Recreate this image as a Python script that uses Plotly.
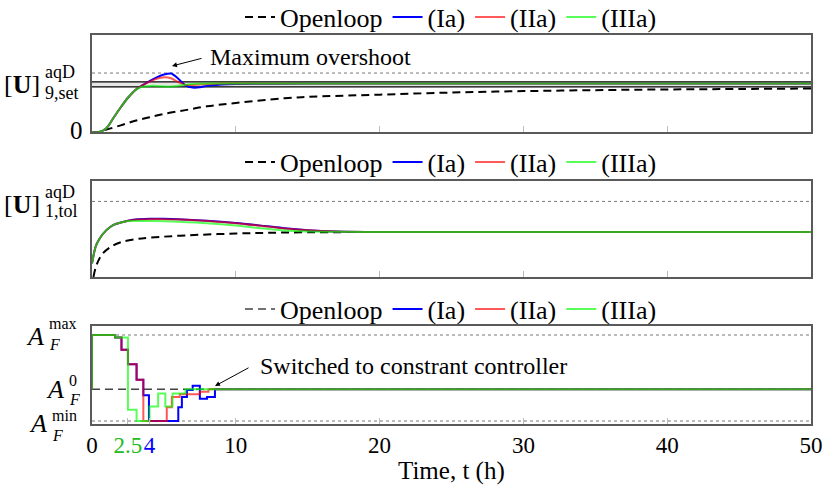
import plotly.graph_objects as go
from plotly.subplots import make_subplots

W, H = 831, 498
FONT = "'Liberation Serif', 'DejaVu Serif', serif"

# ---- panel 1: [U]_9,set (normalised, set point = 1) ----
t_open1 = [0, 0.4, 1, 2, 3, 4, 5, 6.5, 8, 10, 13.4, 16, 20, 25, 30, 35, 40, 45, 50]
u9_open = [0, 0, 0.05, 0.14, 0.235, 0.31, 0.38, 0.46, 0.54, 0.61, 0.71, 0.75, 0.785,
           0.83, 0.86, 0.88, 0.895, 0.905, 0.915]

t_ctrl1 = [0, 0.5, 1.0, 1.5, 2.0, 2.5, 3.0, 3.5, 4.0, 4.5, 5.0, 5.5, 6.0, 6.5, 7.0,
           7.5, 8.0, 9.0, 10, 15, 20, 30, 40, 50]
u9_Ia = [0, 0, 0.08, 0.3, 0.52, 0.72, 0.88, 0.98, 1.07, 1.15, 1.21, 1.23, 1.12, 0.98,
         0.935, 0.94, 0.97, 1.0, 1.01, 1.02, 1.02, 1.02, 1.02, 1.02]
u9_IIa = [0, 0, 0.08, 0.3, 0.52, 0.72, 0.88, 0.98, 1.06, 1.12, 1.15, 1.13, 1.05, 0.99,
          0.99, 1.0, 1.01, 1.02, 1.02, 1.02, 1.02, 1.02, 1.02, 1.02]
u9_IIIa = [0, 0, 0.08, 0.3, 0.52, 0.72, 0.88, 0.95, 0.97, 0.97, 0.955, 0.955, 0.975,
           0.995, 1.01, 1.015, 1.02, 1.02, 1.02, 1.02, 1.02, 1.02, 1.02, 1.02]
u9_band = [0.947, 1.053]
u9_max_overshoot = 1.24

# ---- panel 2: [U]_1,tol (normalised, tolerance = 1) ----
t_open2 = [0.1, 0.3, 0.7, 1.4, 2, 3, 4, 6.5, 10, 13.4, 20, 30, 40, 50]
u1_open = [0.0, 0.15, 0.3, 0.41, 0.46, 0.5, 0.52, 0.55, 0.575, 0.588, 0.595, 0.595,
           0.595, 0.595]
t_ctrl2 = [0, 0.25, 0.5, 1.0, 1.5, 2.0, 2.5, 3, 4, 5, 6, 8, 10, 12, 13.4, 15, 17, 20,
           30, 40, 50]
u1_Ia = [0.18, 0.4, 0.5, 0.62, 0.69, 0.72, 0.745, 0.76, 0.77, 0.77, 0.765, 0.745,
         0.715, 0.675, 0.645, 0.62, 0.603, 0.595, 0.595, 0.595, 0.595]
u1_IIa = [0.18, 0.4, 0.5, 0.62, 0.69, 0.72, 0.745, 0.758, 0.765, 0.765, 0.76, 0.742,
          0.712, 0.672, 0.642, 0.618, 0.602, 0.595, 0.595, 0.595, 0.595]
u1_IIIa = [0.18, 0.4, 0.5, 0.62, 0.69, 0.72, 0.74, 0.742, 0.742, 0.738, 0.73, 0.71,
           0.68, 0.64, 0.615, 0.603, 0.597, 0.595, 0.595, 0.595, 0.595]
u1_tol = 1.0

# ---- panel 3: A_F (normalised, A_min = 0, A_max = 1) ----
a_min, a_0, a_max = 0.0, 0.37, 1.0
t_open3 = [0, 50]
af_open = [a_0, a_0]
t_Ia = [0, 0, 1.6, 2.05, 2.5, 3.1, 3.57, 3.96, 6.0, 6.25, 6.6, 7.0, 7.5, 8.0, 8.55, 50]
af_Ia = [0.37, 1.0, 0.97, 0.83, 0.66, 0.48, 0.30, 0.0, 0.16, 0.28, 0.36, 0.41, 0.26,
         0.28, 0.37, 0.37]
t_IIa = [0, 0, 1.6, 2.05, 2.5, 3.1, 3.57, 5.2, 5.55, 6.1, 7.5, 8.1, 50]
af_IIa = [0.37, 1.0, 0.97, 0.83, 0.66, 0.48, 0.0, 0.16, 0.28, 0.31, 0.34, 0.37, 0.37]
t_IIIa = [0, 0, 1.6, 2.5, 3.1, 4.0, 4.6, 5.1, 5.6, 6.5, 50]
af_IIIa = [0.37, 1.0, 0.97, 0.13, 0.0, 0.17, 0.32, 0.17, 0.32, 0.37, 0.37]

x_ticks = [0, 10, 20, 30, 40, 50]
x_ticks3 = [0, 2.5, 4, 10, 20, 30, 40, 50]
x_ticktext3 = ["0", "<span style='color:#22bb22'>2.5</span>",
               "<span style='color:#0000ff'>4</span>", "10", "20", "30", "40", "50"]

BLUE, RED, GREEN = "#0000ff", "#ff0000", "#00ff00"
names = ["(Ia)", "(IIa)", "(IIIa)"]
colors = [BLUE, RED, GREEN]
opac = [1.0, 0.65, 0.65]


def px_x(p):
    return p / W


def px_y(p):
    return 1 - p / H


fig = make_subplots(rows=3, cols=1)

# panel 1
fig.add_trace(go.Scatter(x=t_open1, y=u9_open, name="Openloop", mode="lines",
                         line=dict(color="black", width=2, dash="8px,5px", shape="spline"),
                         legend="legend"), row=1, col=1)
for n, c, o, y in zip(names, colors, opac, [u9_Ia, u9_IIa, u9_IIIa]):
    fig.add_trace(go.Scatter(x=t_ctrl1, y=y, name=n, mode="lines", opacity=o,
                             line=dict(color=c, width=2, shape="spline", smoothing=0.8),
                             legend="legend"), row=1, col=1)

# panel 2
fig.add_trace(go.Scatter(x=t_open2, y=u1_open, name="Openloop", mode="lines",
                         line=dict(color="black", width=2, dash="8px,5px", shape="spline"),
                         legend="legend2"), row=2, col=1)
for n, c, o, y in zip(names, colors, opac, [u1_Ia, u1_IIa, u1_IIIa]):
    fig.add_trace(go.Scatter(x=t_ctrl2, y=y, name=n, mode="lines", opacity=o,
                             line=dict(color=c, width=2, shape="spline", smoothing=0.8),
                             legend="legend2"), row=2, col=1)

# panel 3
fig.add_trace(go.Scatter(x=t_open3, y=af_open, name="Openloop", mode="lines",
                         line=dict(color="#444444", width=1.5, dash="8px,5px"),
                         legend="legend3"), row=3, col=1)
for n, c, o, tt, y in zip(names, colors, opac, [t_Ia, t_IIa, t_IIIa],
                          [af_Ia, af_IIa, af_IIIa]):
    fig.add_trace(go.Scatter(x=tt, y=y, name=n, mode="lines", opacity=o,
                             line=dict(color=c, width=2, shape="hv"),
                             legend="legend3"), row=3, col=1)

# reference lines
dot = dict(color="#777777", width=1, dash="dot")
shapes = [
    dict(type="rect", xref="x", yref="y", x0=0, x1=50, y0=u9_band[0], y1=u9_band[1],
         fillcolor="#e6e6e6", line=dict(width=0), layer="below"),
    dict(type="line", xref="x", yref="y", x0=0, x1=50, y0=u9_band[0], y1=u9_band[0],
         line=dict(color="black", width=1.2), layer="below"),
    dict(type="line", xref="x", yref="y", x0=0, x1=50, y0=u9_band[1], y1=u9_band[1],
         line=dict(color="black", width=1.2), layer="below"),
    dict(type="line", xref="x", yref="y", x0=0, x1=50, y0=u9_max_overshoot,
         y1=u9_max_overshoot, line=dot, layer="below"),
    dict(type="line", xref="x2", yref="y2", x0=0, x1=50, y0=u1_tol, y1=u1_tol,
         line=dot, layer="below"),
    dict(type="line", xref="x3", yref="y3", x0=0, x1=50, y0=a_max, y1=a_max,
         line=dot, layer="below"),
    dict(type="line", xref="x3", yref="y3", x0=0, x1=50, y0=a_min, y1=a_min,
         line=dot, layer="below"),
]

doms = [(35, 132), (181, 277), (326, 424)]
yranges = [[0, 2.04], [0, 1.27], [-0.035, 1.105]]
ax_style = dict(showline=True, mirror=True, linecolor="#5a5a5a", linewidth=1.5,
                showgrid=False, zeroline=False)
for i in range(3):
    top, bot = doms[i]
    k = "" if i == 0 else str(i + 1)
    fig.layout["yaxis" + k].update(domain=[px_y(bot), px_y(top)], range=yranges[i],
                                   showticklabels=False, ticks="", **ax_style)
    fig.layout["xaxis" + k].update(domain=[px_x(92), px_x(811)], range=[0, 50],
                                   ticks="inside", ticklen=6, tickcolor="#bbbbbb",
                                   tickwidth=1, tickvals=x_ticks3 if i == 2 else x_ticks,
                                   showticklabels=(i == 2), **ax_style)
fig.layout.xaxis3.update(ticktext=x_ticktext3, tickangle=0,
                         tickfont=dict(family=FONT, size=23, color="black"))

anns = []


def lbl(text, x, y, xanchor, size):
    anns.append(dict(text=text, x=px_x(x), y=px_y(y), xref="paper", yref="paper",
                     xanchor=xanchor, yanchor="middle", showarrow=False,
                     font=dict(family=FONT, size=size, color="black")))


# y tick labels built from pieces
lbl("0", 85, 131, "right", 25)
lbl("[<b>U</b>]", 42, 84, "right", 26)
lbl("aqD", 43, 72, "left", 18)
lbl("9,set", 43, 93, "left", 18)
lbl("[<b>U</b>]", 42, 204, "right", 26)
lbl("aqD", 43, 192, "left", 18)
lbl("1,tol", 43, 211, "left", 18)
lbl("<i>A</i>", 46, 336, "right", 26)
lbl("max", 47, 323, "left", 16)
lbl("<i>F</i>", 47, 344, "left", 16)
lbl("<i>A</i>", 66, 389, "right", 26)
lbl("0", 67, 380, "left", 16)
lbl("<i>F</i>", 67, 399, "left", 16)
lbl("<i>A</i>", 49, 423, "right", 26)
lbl("min", 50, 415, "left", 16)
lbl("<i>F</i>", 50, 435, "left", 16)

# axis title
lbl("Time, t (h)", 451, 471, "center", 25)

# callouts
lbl("Maximum overshoot", 208, 57, "left", 24)
lbl("Switched to constrant controller", 258, 366, "left", 24)
anns.append(dict(text="", x=px_x(172), y=px_y(66), xref="paper", yref="paper",
                 showarrow=True, ax=31, ay=-8, arrowhead=2, arrowsize=1,
                 arrowwidth=1, arrowcolor="black"))
anns.append(dict(text="", x=px_x(215), y=px_y(386), xref="paper", yref="paper",
                 showarrow=True, ax=35, ay=-19, arrowhead=2, arrowsize=1,
                 arrowwidth=1, arrowcolor="black"))

leg = dict(orientation="h", x=px_x(451), xanchor="center", yanchor="middle",
           bgcolor="rgba(0,0,0,0)", font=dict(family=FONT, size=26, color="black"),
           itemwidth=30)
fig.update_layout(
    width=W, height=H,
    margin=dict(l=0, r=0, t=0, b=0, autoexpand=False),
    paper_bgcolor="white", plot_bgcolor="white",
    font=dict(family=FONT, size=24, color="black"),
    shapes=shapes, annotations=anns,
    legend=dict(leg, y=px_y(17)),
    legend2=dict(leg, y=px_y(162)),
    legend3=dict(leg, y=px_y(309)),
)

# the page body has a default margin; drop it so the figure sits at the corner
fig.write_html("out.html", config={"displayModeBar": False},
               post_script="document.body.style.margin='0';"
                           "document.body.style.overflow='hidden';")
